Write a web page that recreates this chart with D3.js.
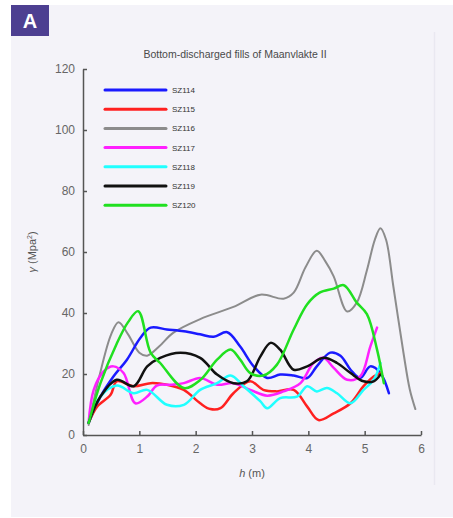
<!DOCTYPE html>
<html><head><meta charset="utf-8">
<script src="https://cdn.jsdelivr.net/npm/d3@7"></script>
<style>
html,body{margin:0;padding:0;background:#fff;}
svg{display:block;font-family:"Liberation Sans",Arial,sans-serif;}
</style></head>
<body><svg id="c" width="453" height="518"></svg>
<script>
const seriesNames = ["SZ114","SZ115","SZ116","SZ117","SZ118","SZ119","SZ120"];
const seriesColors = ["#1a1aff","#ff2020","#8c8c8c","#ff20ff","#20ffff","#111111","#20e020"];
const xTicks = [0,1,2,3,4,5,6];
const yTicks = [0,20,40,60,80,100,120];

const sz114 = [[0.1,4],[0.31,12.6],[0.54,19.2],[0.78,24.7],[1.02,31.9],[1.2,35.2],[1.49,34.6],[1.79,34],[2.08,33],[2.32,32.2],[2.56,33.7],[2.79,29],[3.03,22.5],[3.27,18.7],[3.5,19.8],[3.74,19.5],[3.98,18.7],[4.15,22.5],[4.39,27],[4.57,26],[4.75,21.4],[4.92,18.7],[5.1,22.5],[5.28,20.3],[5.43,13.7]];
const sz115 = [[0.1,4],[0.25,9.3],[0.49,13.2],[0.6,17.6],[0.9,16],[1.2,17],[1.49,16.5],[1.79,14.8],[2.08,10.4],[2.26,8.5],[2.44,8.8],[2.67,13.7],[2.97,17.6],[3.2,14.8],[3.44,14.3],[3.74,14.8],[3.98,9.3],[4.18,4.9],[4.45,7.1],[4.75,10.4],[4.98,16],[5.16,19.2],[5.28,20.3]];
const sz116 = [[0.1,3.3],[0.3,20],[0.5,33],[0.63,37],[0.8,33],[1.0,27],[1.14,26],[1.35,29],[1.6,33.5],[2.08,38],[2.67,42],[3.15,46],[3.56,44.7],[3.74,46.7],[3.95,55],[4.15,60.4],[4.3,57],[4.45,52],[4.69,40.5],[4.86,43.4],[5.04,54],[5.18,64],[5.28,67.8],[5.38,64],[5.51,48.6],[5.69,26.8],[5.8,15],[5.9,8.5]];
const sz117 = [[0.1,4],[0.19,14.8],[0.37,20.9],[0.54,22.5],[0.72,20.3],[0.93,10.4],[1.14,12.6],[1.31,16.2],[1.55,16.5],[1.79,17],[2.08,18.7],[2.38,16.5],[2.67,17],[2.97,14.8],[3.27,12.9],[3.56,14.3],[3.86,17],[4.09,23.6],[4.27,25.3],[4.45,22],[4.69,18.1],[4.92,19.2],[5.1,29],[5.22,35.2]];
const sz118 = [[0.1,4],[0.31,12.6],[0.6,16.2],[0.9,13.7],[1.14,14.8],[1.49,9.9],[1.79,9.9],[2.08,14.8],[2.38,17],[2.62,19.5],[2.85,16],[3.15,11],[3.27,8.8],[3.5,12.1],[3.8,12.6],[3.98,16],[4.15,14.3],[4.33,15.4],[4.51,13.7],[4.75,10.4],[4.98,14.8],[5.16,18.1],[5.28,23.6]];
const sz119 = [[0.1,4],[0.31,12.6],[0.6,18.1],[0.9,16],[1.14,22.5],[1.37,25.3],[1.73,27],[2.08,25.3],[2.38,19.8],[2.67,17],[2.91,17.6],[3.15,25.8],[3.33,30.2],[3.5,28],[3.74,21.4],[3.98,22.5],[4.27,25.3],[4.51,23.6],[4.75,20.3],[4.98,17.6],[5.16,17.6],[5.28,19.8]];
const sz120 = [[0.1,4],[0.31,17],[0.6,30],[0.8,37],[0.98,40.6],[1.2,27],[1.37,23.6],[1.79,15.4],[2.08,18],[2.38,24.7],[2.62,28],[2.79,24.7],[2.97,20.3],[3.2,19.5],[3.44,23],[3.74,34.6],[3.98,42.9],[4.2,46.7],[4.45,48],[4.63,49.1],[4.86,43.4],[5.04,39.6],[5.22,28],[5.34,17]];
const seriesData = [sz114,sz115,sz116,sz117,sz118,sz119,sz120];

const svg = d3.select("#c");
// panel background
svg.append("rect").attr("x",11).attr("y",5).attr("width",442).attr("height",512).attr("fill","#f4f3f9");
svg.append("line").attr("x1",434.5).attr("x2",434.5).attr("y1",32).attr("y2",485).attr("stroke","#e9e8f1").attr("stroke-width",1.5);
// badge
svg.append("rect").attr("x",11).attr("y",5).attr("width",38).attr("height",31).attr("fill","#4d3f91");
svg.append("text").attr("x",30).attr("y",28).attr("text-anchor","middle").attr("fill","#fff")
  .attr("font-size",20).attr("font-weight","bold").text("A");

const x = d3.scaleLinear().domain([0,6]).range([83,421]);
const y = d3.scaleLinear().domain([0,120]).range([435,69]);

// title
svg.append("text").attr("x",235).attr("y",58).attr("text-anchor","middle").attr("fill","#4a4a4a")
  .attr("font-size",10.5).text("Bottom-discharged fills of Maanvlakte II");

// axes
const xAxis = d3.axisBottom(x).tickValues(xTicks).tickFormat(d3.format("d")).tickSizeInner(-4).tickSizeOuter(0).tickPadding(9);
const gx = svg.append("g").attr("transform","translate(0,435)").call(xAxis);
const yAxis = d3.axisLeft(y).tickValues(yTicks).tickFormat(d3.format("d")).tickSizeInner(-4).tickSizeOuter(0).tickPadding(8);
const gy = svg.append("g").attr("transform","translate(83,0)").call(yAxis);
[gx,gy].forEach(g=>{
  g.select(".domain").attr("stroke","#555").attr("stroke-width",1.5);
  g.selectAll(".tick line").attr("stroke","#555").attr("stroke-width",1.5);
  g.selectAll(".tick text").attr("fill","#666").attr("font-size",12).attr("font-family","Liberation Sans, Arial, sans-serif");
});

// axis labels
const xl = svg.append("text").attr("x",252).attr("y",477).attr("text-anchor","middle").attr("fill","#555").attr("font-size",11);
xl.append("tspan").attr("font-style","italic").text("h");
xl.append("tspan").text(" (m)");
const yl = svg.append("text").attr("transform","translate(36,252) rotate(-90)").attr("text-anchor","middle").attr("fill","#555").attr("font-size",11);
yl.append("tspan").attr("font-style","italic").text("γ");
yl.append("tspan").text(" (Mpa");
yl.append("tspan").attr("font-size",7).attr("dy",-4).text("2");
yl.append("tspan").attr("dy",4).text(")");

// lines
const line = d3.line().x(d=>x(d[0])).y(d=>y(d[1])).curve(d3.curveCatmullRom.alpha(0.5));
const order = [2,0,1,3,4,5,6];
order.forEach(i=>{
  svg.append("path").datum(seriesData[i]).attr("d",line).attr("fill","none")
    .attr("stroke",seriesColors[i]).attr("stroke-width", i===2?2:2.5)
    .attr("stroke-linejoin","round").attr("stroke-linecap","round");
});

// legend
const lg = svg.append("g");
seriesNames.forEach((n,i)=>{
  const yy = 90 + i*19.2;
  lg.append("line").attr("x1",105).attr("x2",166).attr("y1",yy).attr("y2",yy)
    .attr("stroke",seriesColors[i]).attr("stroke-width",3).attr("stroke-linecap","round");
  lg.append("text").attr("x",172).attr("y",yy+3).attr("fill","#333").attr("font-size",8).text(n);
});
</script></body></html>
